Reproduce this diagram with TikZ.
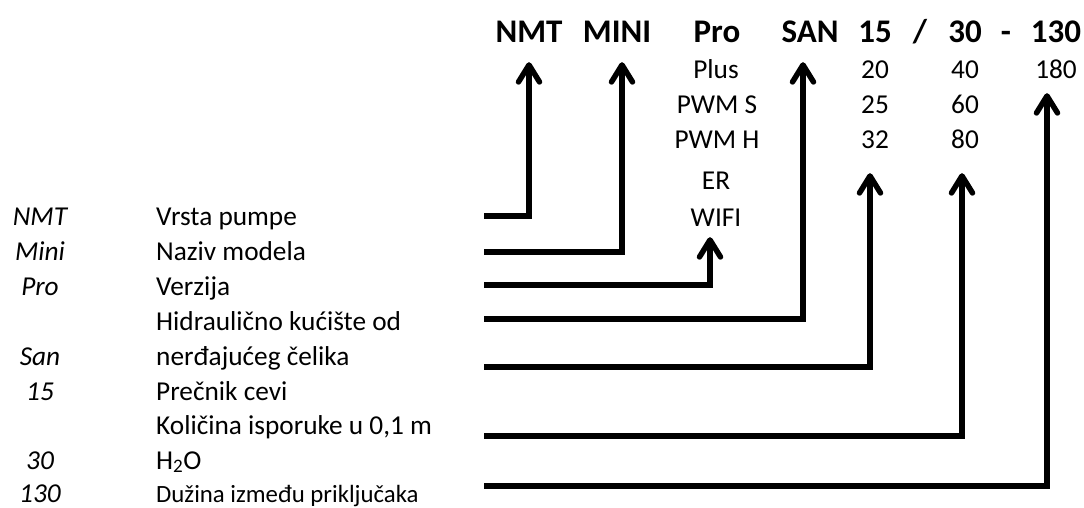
\documentclass[tikz,border=0pt]{standalone}
\usepackage{fontspec}
\setmainfont{Carlito}
\usetikzlibrary{positioning}
\usetikzlibrary{arrows.meta}
\tikzset{
  naslov/.style={
    anchor=base, inner sep=0pt, text depth=0pt,
    font=\fontsize{33}{36}\selectfont\bfseries
  },
  vrednost/.style={
    anchor=base, inner sep=0pt, text depth=0pt,
    font=\fontsize{27.3}{35}\selectfont
  },
  oznaka/.style={
    anchor=base, inner sep=0pt,
    font=\fontsize{27.3}{35}\selectfont\itshape
  },
  opis/.style={
    anchor=base west, inner sep=0pt, align=left,
    font=\fontsize{27.3}{35}\selectfont
  },
  strelica/.style={-{Straight Barb[length=17pt, width=21pt, round]}, line width=5.5pt, draw=black}
}

\begin{document}
\begin{tikzpicture}[x=1pt, y=-1pt]
  \useasboundingbox (0,0) rectangle (1084,508);

  % oznaka pumpe
  \node[naslov] (hNMT)  at (529,43)  {NMT};
  \node[naslov] (hMINI) at (617,43)  {MINI};
  \node[naslov] (hPro)  at (717,43)  {Pro};
  \node[naslov] (hSAN)  at (810,43)  {SAN};
  \node[naslov] (h15)   at (875,43)  {15};
  \node[naslov] (hKosa) at (920,43)  {/};
  \node[naslov] (h30)   at (965,43)  {30};
  \node[naslov] (hCrta) at (1006,43) {-};
  \node[naslov] (h130)  at (1056,43) {130};

  % moguce vrednosti
  \node[vrednost] (vPlus) at (716,79)  {Plus};
  \node[vrednost] (vPWMS) at (717,114) {PWM S};
  \node[vrednost] (vPWMH) at (717,149) {PWM H};
  \node[vrednost] (vER)   at (716,189) {ER};
  \node[vrednost] (vWIFI) at (716,226) {WIFI};
  \node[vrednost] (v20)  at (875,79)  {20};
  \node[vrednost] (v25)  at (875,114) {25};
  \node[vrednost] (v32)  at (875,149) {32};
  \node[vrednost] (v40)  at (965,79)  {40};
  \node[vrednost] (v60)  at (965,114) {60};
  \node[vrednost] (v80)  at (965,149) {80};
  \node[vrednost] (v180) at (1056,79) {180};

  % legenda
  \node[oznaka] (kNMT)  at (40,225) {NMT};
  \node[oznaka] (kMini) at (40,260) {Mini};
  \node[oznaka] (kPro)  at (40,295) {Pro};
  \node[oznaka] (kSan)  at (40,365) {San};
  \node[oznaka] (k15)   at (40,400) {15};
  \node[oznaka] (k30)   at (40,469) {30};
  \node[oznaka] (k130)  at (40,502) {130};

  \node[opis] (dNMT)  at (156,225) {Vrsta pumpe};
  \node[opis] (dMini) at (156,260) {Naziv modela};
  \node[opis] (dPro)  at (156,295) {Verzija};
  \node[opis] (dSan)  at (156,365) {Hidraulično kućište od\\nerđajućeg čelika};
  \node[opis] (d15)   at (156,400) {Prečnik cevi};
  \node[opis] (d30)   at (156,469) {Količina isporuke u 0,1 m\\H\textsubscript{2}O};
  \node[opis, font=\fontsize{24.8}{30}\selectfont] (d130) at (156,502)
    {Dužina između priključaka};

  \coordinate (sNMT)  at (484,216);
  \coordinate (sMini) at (484,252);
  \coordinate (sPro)  at (484,285);
  \coordinate (sSan)  at (484,319);
  \coordinate (s15)   at (484,367);
  \coordinate (s30)   at (484,436);
  \coordinate (s130)  at (484,486);

  \draw[strelica] (sNMT)  -| ([yshift=-19pt]hNMT.south);
  \draw[strelica] (sMini) -| ([xshift=5pt, yshift=-19pt]hMINI.south);
  \draw[strelica] (sPro)  -| ([xshift=-6pt, yshift=-11pt]vWIFI.south);
  \draw[strelica] (sSan)  -| ([xshift=-7pt, yshift=-19pt]hSAN.south);
  \draw[strelica] (s15)   -| ([xshift=-5pt, yshift=-24pt]v32.south);
  \draw[strelica] (s30)   -| ([xshift=-3pt, yshift=-24pt]v80.south);
  \draw[strelica] (s130)  -| ([xshift=-9pt, yshift=-14pt]v180.south);
\end{tikzpicture}
\end{document}
